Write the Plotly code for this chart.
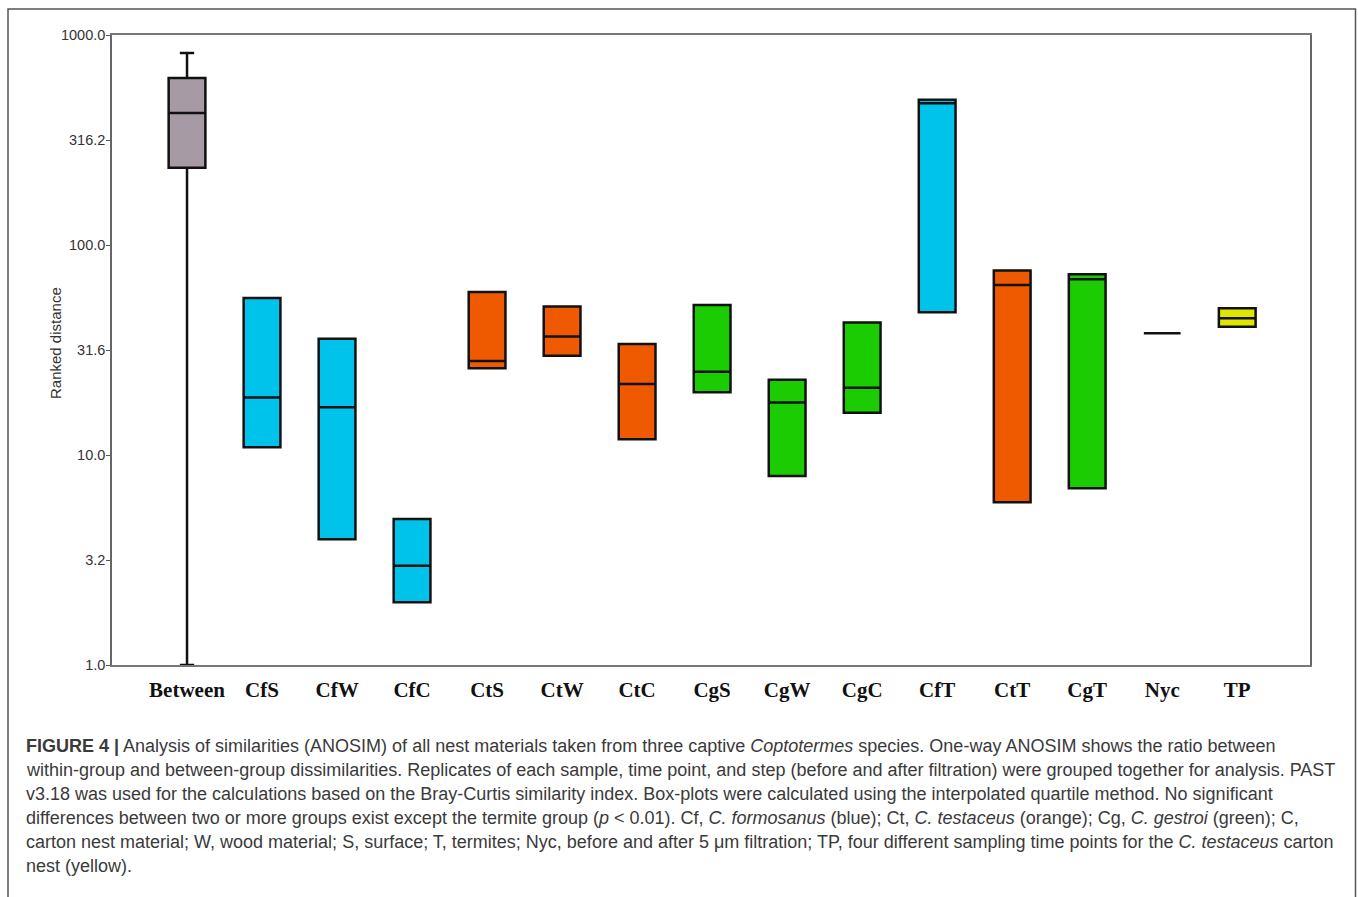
import plotly.graph_objects as go

# ---- data -------------------------------------------------------------
categories = ["Between", "CfS", "CfW", "CfC", "CtS", "CtW", "CtC",
              "CgS", "CgW", "CgC", "CfT", "CtT", "CgT", "Nyc", "TP"]
groups = ["between", "cf", "cf", "cf", "ct", "ct", "ct",
          "cg", "cg", "cg", "cf", "ct", "cg", "nyc", "tp"]
q1 = [233, 10.9, 3.97, 1.99, 25.9, 29.7, 11.9,
      19.9, 7.94, 15.9, 47.8, 5.95, 6.94, 38.0, 40.8]
median = [425, 18.8, 16.9, 2.97, 28.0, 36.7, 21.8,
          24.9, 17.8, 20.9, 473, 64.5, 68.7, 38.0, 44.8]
q3 = [624, 55.9, 35.8, 4.96, 59.7, 50.9, 33.8,
      51.8, 22.8, 42.7, 492, 75.7, 72.5, 38.0, 50.0]
lower = [1.0, 10.9, 3.97, 1.99, 25.9, 29.7, 11.9,
         19.9, 7.94, 15.9, 47.8, 5.95, 6.94, 38.0, 40.8]
upper = [821, 55.9, 35.8, 4.96, 59.7, 50.9, 33.8,
         51.8, 22.8, 42.7, 492, 75.7, 72.5, 38.0, 50.0]

y_tickvals = [1, 3.1623, 10, 31.623, 100, 316.23, 1000]
y_ticktext = ["1.0", "3.2", "10.0", "31.6", "100.0", "316.2", "1000.0"]

caption_lines = [
    "<b>FIGURE 4 |</b> Analysis of similarities (ANOSIM) of all nest materials taken from three captive "
    "<i>Coptotermes</i> species. One-way ANOSIM shows the ratio between",
    "within-group and between-group dissimilarities. Replicates of each sample, time point, and step "
    "(before and after filtration) were grouped together for analysis. PAST",
    "v3.18 was used for the calculations based on the Bray-Curtis similarity index. Box-plots were "
    "calculated using the interpolated quartile method. No significant",
    "differences between two or more groups exist except the termite group (<i>p</i> &lt; 0.01). Cf, "
    "<i>C. formosanus</i> (blue); Ct, <i>C. testaceus</i> (orange); Cg, <i>C. gestroi</i> (green); C,",
    "carton nest material; W, wood material; S, surface; T, termites; Nyc, before and after 5 \u03bcm "
    "filtration; TP, four different sampling time points for the <i>C. testaceus</i> carton",
    "nest (yellow).",
]

# ---- styling ----------------------------------------------------------
fill_colors = {
    "between": "#A69AA5",
    "cf": "#00C3EC",
    "ct": "#EF5A00",
    "cg": "#1BCC02",
    "nyc": "#1BCC02",
    "tp": "#DDE500",
}

W, H = 1358, 897
L, R, T, B = 112, 1310, 35, 665          # plot-area edges in pixels


def px_x(p):
    return (p - L) / (R - L)


def px_y(p):
    return (B - p) / (B - T)


fig = go.Figure()
for i, cat in enumerate(categories):
    fig.add_trace(go.Box(
        x=[i + 1],
        q1=[q1[i]], median=[median[i]], q3=[q3[i]],
        lowerfence=[lower[i]], upperfence=[upper[i]],
        width=0.49,
        whiskerwidth=0.39,
        fillcolor=fill_colors[groups[i]],
        line=dict(color="#111111", width=2.5),
        name=cat,
        showlegend=False,
        hoverinfo="skip",
    ))

fig.update_layout(
    width=W, height=H,
    margin=dict(l=L, r=W - R, t=T, b=H - B, pad=0),
    paper_bgcolor="white",
    plot_bgcolor="white",
    showlegend=False,
    xaxis=dict(
        range=[0, 15.97],
        tickmode="array",
        tickvals=list(range(1, len(categories) + 1)),
        ticktext=categories,
        ticks="outside", ticklen=5, tickcolor="rgba(0,0,0,0)",
        tickfont=dict(family="Liberation Serif", size=21, color="#111111", weight="bold"),
        showgrid=False, zeroline=False,
        showline=True, linecolor="#777777", linewidth=1.6, mirror=True,
    ),
    yaxis=dict(
        type="log",
        range=[0, 3],
        tickmode="array",
        tickvals=y_tickvals,
        ticktext=y_ticktext,
        ticks="outside", ticklen=4, tickcolor="#555555", tickwidth=1.2,
        ticklabelstandoff=-2,
        tickfont=dict(family="Liberation Sans", size=14.5, color="#333333"),
        showgrid=False, zeroline=False,
        showline=True, linecolor="#666666", linewidth=1.6, mirror=True,
    ),
)

# outer figure frame (open at the bottom edge of the page)
fig.add_shape(type="rect", xref="paper", yref="paper",
              x0=px_x(8), x1=px_x(1355.5), y0=px_y(905), y1=px_y(9),
              line=dict(color="#555555", width=1.5), fillcolor="rgba(0,0,0,0)",
              layer="below")

# y-axis title
fig.add_annotation(text="Ranked distance", xref="paper", yref="paper",
                   x=px_x(55), y=px_y(343), textangle=-90, showarrow=False,
                   xanchor="center", yanchor="middle",
                   font=dict(family="Liberation Sans", size=15, color="#333333"))

# caption, one annotation per line
baselines = [752, 776, 800, 824, 848, 872]
for line, base in zip(caption_lines, baselines):
    fig.add_annotation(text=line, xref="paper", yref="paper",
                       x=px_x(24), y=px_y(base - 6), showarrow=False,
                       xanchor="left", yanchor="middle", align="left",
                       font=dict(family="Liberation Sans", size=18, color="#3a3a3a"))

fig.write_html("out.html")
